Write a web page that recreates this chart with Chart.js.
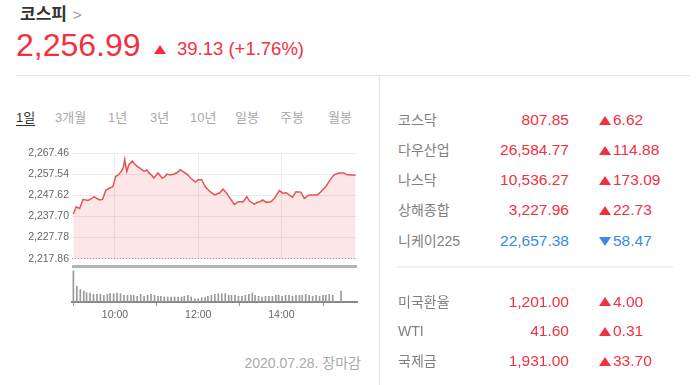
<!DOCTYPE html>
<html lang="ko">
    <head>
        <meta charset="UTF-8">
        <title>코스피</title>
        <script src="https://cdn.jsdelivr.net/npm/chart.js"></script>
        <style>
            body {
                margin: 0;
                width: 699px;
                height: 385px;
                overflow: hidden;
                background: #fff;
                font-family: "Liberation Sans", "Noto Sans CJK KR", sans-serif;
                position: relative;
            }
            .abs { position: absolute; white-space: nowrap; }
            .title { left: 20px; top: 4px; font-size: 17px; line-height: 22px; font-weight: bold; color: #333; }
            .title span { color: #999; font-weight: normal; font-size: 15px; margin-left: 6px; }
            .price { left: 16px; top: 29px; font-size: 32px; line-height: 32px; color: #f3303e; }
            .change { left: 177px; top: 40px; font-size: 18.5px; line-height: 18.5px; color: #f3303e; }
            .up, .down {
                position: absolute;
                width: 0; height: 0;
                border-left: 6px solid transparent;
                border-right: 6px solid transparent;
            }
            .up { border-bottom: 9px solid #f3303e; }
            .down { border-top: 9px solid #3a8be6; }
            .hline { position: absolute; background: #e6e6e6; }
            .tab { top: 108px; font-size: 13px; line-height: 20px; color: #a8a8a8; }
            .tab.on { color: #333; text-decoration: underline; text-underline-offset: 3px; }
            .name { left: 398px; font-size: 14px; line-height: 20px; color: #808080; }
            .val { right: 130px; font-size: 15.5px; line-height: 20px; color: #f3303e; text-align: right; }
            .chg { left: 613px; font-size: 15.5px; line-height: 20px; color: #f3303e; }
            .blue { color: #3a8be6; }
            .date { right: 338px; top: 353px; font-size: 14px; line-height: 20px; color: #aaa; }
            canvas { position: absolute; }
        </style>
    </head>
    <body>
        <div class="abs title">코스피<span>&gt;</span></div>
        <div class="abs price">2,256.99</div>
        <div class="up" style="left:154px; top:45px;"></div>
        <div class="abs change">39.13 (+1.76%)</div>

        <div class="hline" style="left:16px; top:75px; width:674px; height:1px;"></div>
        <div class="hline" style="left:379px; top:76px; width:1px; height:309px;"></div>

        <div class="abs tab on" style="left:16px;">1일</div>
        <div class="abs tab" style="left:55px;">3개월</div>
        <div class="abs tab" style="left:108px;">1년</div>
        <div class="abs tab" style="left:150px;">3년</div>
        <div class="abs tab" style="left:190px;">10년</div>
        <div class="abs tab" style="left:235px;">일봉</div>
        <div class="abs tab" style="left:280px;">주봉</div>
        <div class="abs tab" style="left:328px;">월봉</div>

        <canvas id="price" width="365" height="125" style="left:0; top:143px;"></canvas>
        <div class="hline" style="left:72px; top:265px; width:285px; height:3px; background:#b4b4b4;"></div>
        <canvas id="volume" width="365" height="64" style="left:0; top:268px;"></canvas>

        <div class="abs date">2020.07.28. 장마감</div>

        <div class="abs name" style="top:110px;">코스닥</div>
        <div class="abs val" style="top:110px;">807.85</div>
        <div class="up" style="left:599px; top:116px;"></div>
        <div class="abs chg" style="top:110px;">6.62</div>

        <div class="abs name" style="top:140px;">다우산업</div>
        <div class="abs val" style="top:140px;">26,584.77</div>
        <div class="up" style="left:599px; top:146px;"></div>
        <div class="abs chg" style="top:140px;">114.88</div>

        <div class="abs name" style="top:170px;">나스닥</div>
        <div class="abs val" style="top:170px;">10,536.27</div>
        <div class="up" style="left:599px; top:176px;"></div>
        <div class="abs chg" style="top:170px;">173.09</div>

        <div class="abs name" style="top:200px;">상해종합</div>
        <div class="abs val" style="top:200px;">3,227.96</div>
        <div class="up" style="left:599px; top:206px;"></div>
        <div class="abs chg" style="top:200px;">22.73</div>

        <div class="abs name" style="top:231px;">니케이225</div>
        <div class="abs val blue" style="top:231px;">22,657.38</div>
        <div class="down" style="left:599px; top:237px;"></div>
        <div class="abs chg blue" style="top:231px;">58.47</div>

        <div class="hline" style="left:397px; top:266px; width:276px; height:2px; background:#f0f0f0;"></div>

        <div class="abs name" style="top:292px;">미국환율</div>
        <div class="abs val" style="top:292px;">1,201.00</div>
        <div class="up" style="left:599px; top:297px;"></div>
        <div class="abs chg" style="top:292px;">4.00</div>

        <div class="abs name" style="top:321px;">WTI</div>
        <div class="abs val" style="top:321px;">41.60</div>
        <div class="up" style="left:599px; top:327px;"></div>
        <div class="abs chg" style="top:321px;">0.31</div>

        <div class="abs name" style="top:351px;">국제금</div>
        <div class="abs val" style="top:351px;">1,931.00</div>
        <div class="up" style="left:599px; top:357px;"></div>
        <div class="abs chg" style="top:351px;">33.70</div>

        <script>
            // 시간은 분 단위 (540 = 09:00)
            const priceTimes = [540, 544, 549, 554, 561, 566, 570, 574, 578, 582, 587, 592, 597, 601, 605, 609, 612, 614,
                617, 620, 625, 628, 632, 637, 642, 646, 649, 653, 656, 662, 668, 672, 675, 680, 685, 690, 694, 701, 705, 709,
                716, 720, 725, 730, 737, 744, 751, 756, 761, 766, 772, 778, 785, 790, 794, 801, 805, 809, 813, 818, 825,
                830, 837, 842, 847, 851, 856, 861, 868, 873, 880, 887, 892, 897, 904, 911, 916, 923, 930, 935, 947];
            const priceValues = [2238.8, 2242.2, 2241.4, 2245.7, 2245.2, 2246.0, 2247.0, 2246.1, 2245.4, 2245.7, 2250.1,
                2250.9, 2251.7, 2256.4, 2257.3, 2258.8, 2260.5, 2264.4, 2258.8, 2262.0, 2263.6, 2262.4, 2261.2, 2260.1,
                2258.8, 2259.5, 2258.1, 2257.0, 2255.7, 2258.1, 2255.7, 2256.4, 2257.6, 2257.1, 2257.6, 2258.3, 2259.6,
                2258.1, 2257.2, 2255.7, 2253.8, 2254.9, 2254.9, 2251.7, 2249.3, 2247.8, 2248.8, 2250.5, 2248.6, 2246.2,
                2243.3, 2244.6, 2244.6, 2247.0, 2244.9, 2243.5, 2244.2, 2244.6, 2245.4, 2244.3, 2244.6, 2246.2, 2249.8,
                2248.6, 2248.8, 2247.8, 2246.7, 2249.3, 2249.1, 2246.2, 2247.8, 2247.8, 2247.8, 2249.3, 2251.7, 2255.2,
                2257.2, 2258.1, 2258.1, 2257.2, 2256.99];
            const prevClose = 2217.86;
            const yTicks = [2217.86, 2227.78, 2237.70, 2247.62, 2257.54, 2267.46];

            const volTimes = [540, 545, 550, 555, 559, 564, 569, 574, 579, 584, 589, 593, 598, 603, 608, 613, 618, 623,
                627, 632, 637, 642, 647, 652, 657, 662, 666, 671, 676, 681, 686, 691, 696, 700, 705, 710, 715, 720, 725,
                730, 734, 739, 744, 749, 754, 759, 764, 768, 773, 778, 783, 788, 793, 798, 802, 807, 812, 817, 822, 827,
                832, 836, 841, 846, 851, 856, 861, 866, 870, 875, 880, 885, 890, 895, 900, 904, 909, 914, 926];
            const volumes = [31, 16, 12.5, 11, 9.3, 9, 7.7, 7.7, 7.7, 6.7, 7.7, 8.3, 8.3, 9, 8.3, 6.7, 6.7, 6.7, 6.7,
                5.7, 7.7, 5.7, 6.7, 7.7, 6.7, 5.7, 5.7, 5, 5, 5, 5, 5, 5, 5.7, 6.7, 5, 3.3, 3.3, 4.3, 4.3, 5.7, 6.7,
                7.7, 8.3, 8.3, 8.3, 6.7, 6.7, 6.7, 5.7, 5.7, 6.7, 7.7, 9, 6.7, 5.7, 5, 5.7, 5.7, 5.7, 6.7, 6.7, 5.7,
                6.7, 6.7, 5.7, 6.7, 6.7, 6.7, 7.7, 6.7, 5.7, 6.7, 5.7, 6.7, 6.7, 7.7, 6.7, 11];

            const hourTicks = [600, 720, 840];
            const hourLabels = ['10:00', '12:00', '14:00'];
            const xMin = 538;
            const xMax = 949;

            Chart.defaults.font.family = '"Liberation Sans", sans-serif';
            Chart.defaults.font.size = 10.5;
            Chart.defaults.color = '#666';

            const fmt = v => v.toLocaleString('en-US', { minimumFractionDigits: 2, maximumFractionDigits: 2 });

            new Chart(document.getElementById('price'), {
                type: 'line',
                data: {
                    datasets: [{
                        data: priceTimes.map((t, i) => ({ x: t, y: priceValues[i] })),
                        borderColor: '#e05656',
                        borderWidth: 1.5,
                        backgroundColor: 'rgba(244, 90, 100, 0.15)',
                        fill: 'start',
                        pointRadius: 0,
                        tension: 0
                    }, {
                        data: [{ x: xMin, y: prevClose }, { x: xMax, y: prevClose }],
                        borderColor: '#666',
                        borderWidth: 1,
                        borderDash: [1, 2],
                        pointRadius: 0,
                        fill: false
                    }]
                },
                options: {
                    responsive: false,
                    animation: false,
                    events: [],
                    plugins: { legend: { display: false }, tooltip: { enabled: false } },
                    layout: { padding: { top: 10, right: 8, bottom: 0, left: 0 } },
                    scales: {
                        x: {
                            type: 'linear', min: xMin, max: xMax,
                            afterBuildTicks: s => { s.ticks = hourTicks.map(v => ({ value: v })); },
                            ticks: { display: false },
                            grid: { color: '#ececec', drawTicks: false },
                            border: { display: false }
                        },
                        y: {
                            min: prevClose, max: yTicks[yTicks.length - 1],
                            afterBuildTicks: s => { s.ticks = yTicks.map(v => ({ value: v })); },
                            afterFit: s => { s.width = 72; },
                            ticks: { padding: 3, callback: v => fmt(v) },
                            grid: { color: '#ececec', drawTicks: false },
                            border: { display: false }
                        }
                    }
                }
            });

            new Chart(document.getElementById('volume'), {
                type: 'bar',
                data: {
                    datasets: [{
                        data: volTimes.map((t, i) => ({ x: t, y: volumes[i] })),
                        backgroundColor: '#999',
                        barThickness: 1
                    }]
                },
                options: {
                    responsive: false,
                    animation: false,
                    events: [],
                    plugins: { legend: { display: false }, tooltip: { enabled: false } },
                    layout: { padding: { top: 1, right: 8, bottom: 0, left: 72 } },
                    scales: {
                        x: {
                            type: 'linear', min: xMin, max: xMax, offset: false,
                            afterBuildTicks: s => { s.ticks = hourTicks.map(v => ({ value: v })); },
                            afterFit: s => { s.height = 30; },
                            ticks: { padding: 3, callback: v => hourLabels[hourTicks.indexOf(v)] },
                            grid: { drawOnChartArea: false, tickLength: 4, tickColor: '#999' },
                            border: { color: '#888', width: 2 }
                        },
                        y: { display: false, min: 0, max: 33 }
                    }
                }
            });
        </script>
    </body>
</html>
